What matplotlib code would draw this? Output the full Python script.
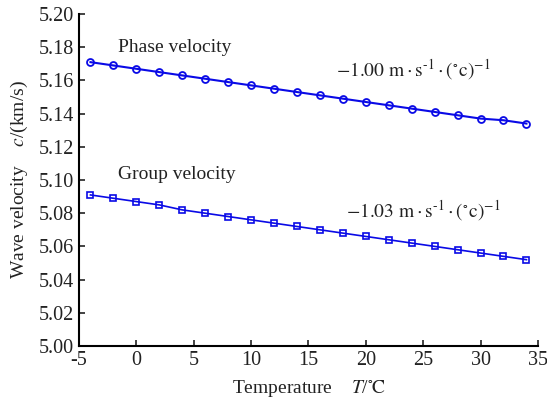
import matplotlib
matplotlib.use('Agg')
import matplotlib.pyplot as plt

plt.rcParams['font.family'] = ['Liberation Serif', 'DejaVu Sans']
plt.rcParams['mathtext.fontset'] = 'stix'

# temperature (deg C) and wave velocities (km/s)
temp = [-4, -2, 0, 2, 4, 6, 8, 10, 12, 14, 16, 18, 20, 22, 24, 26, 28, 30, 32, 34]
phase_v = [5.171, 5.169, 5.167, 5.165, 5.163, 5.161, 5.159, 5.157, 5.155, 5.153,
           5.151, 5.149, 5.147, 5.145, 5.143, 5.141, 5.139, 5.137, 5.136, 5.134]
group_v = [5.091, 5.089, 5.087, 5.085, 5.082, 5.080, 5.078, 5.076, 5.074, 5.072,
           5.070, 5.068, 5.066, 5.064, 5.062, 5.060, 5.058, 5.056, 5.054, 5.052]
xticks = [-5, 0, 5, 10, 15, 20, 25, 30, 35]
yticks = [5.00, 5.02, 5.04, 5.06, 5.08, 5.10, 5.12, 5.14, 5.16, 5.18, 5.20]

fig = plt.figure(figsize=(5.47, 4.05), dpi=100)
ax = fig.add_axes([0.1444, 0.1457, 0.839, 0.8197])

blue = '#0a0ae6'
ax.plot(temp, phase_v, color=blue, lw=1.5, marker='o', ms=5,
        mfc='none', mec=blue, mew=1.3)
ax.plot(temp, group_v, color=blue, lw=1.2, marker='s', ms=4.5,
        mfc='none', mec=blue, mew=1.2)

ax.set_xlim(-5, 35)
ax.set_ylim(5.00, 5.20)
ax.set_xticks(xticks)
ax.set_xticklabels([str(t) for t in xticks])
ax.set_yticks(yticks)
ax.set_yticklabels(['%.2f' % v for v in yticks])
ax.tick_params(direction='in', labelsize=14.5, length=4, width=1.2, colors='#222222')
ax.spines['top'].set_visible(False)
ax.spines['right'].set_visible(False)
ax.spines['left'].set_linewidth(1.5)
ax.spines['bottom'].set_linewidth(1.5)

txt = '#222222'
ax.text(-1.6, 5.1769, 'Phase velocity', fontsize=14, color=txt)
ax.text(-1.6, 5.1004, 'Group velocity', fontsize=14, color=txt)
ax.text(17.4, 5.1624, r'$-1.00\ \mathrm{m}\cdot\mathrm{s}^{\text{-}1}\cdot(^{\circ}\mathrm{c})^{-1}$',
        fontsize=14, color=txt)
ax.text(18.3, 5.0775, r'$-1.03\ \mathrm{m}\cdot\mathrm{s}^{\text{-}1}\cdot(^{\circ}\mathrm{c})^{-1}$',
        fontsize=14, color=txt)

ax.set_xlabel(r'Temperature    $T$/$^{\circ}\!\mathrm{C}$', fontsize=14, color=txt, labelpad=6)
ax.set_ylabel(r'Wave velocity    $c$/(km/s)', fontsize=14, color=txt, labelpad=6)

fig.savefig('out.png', dpi=100)
